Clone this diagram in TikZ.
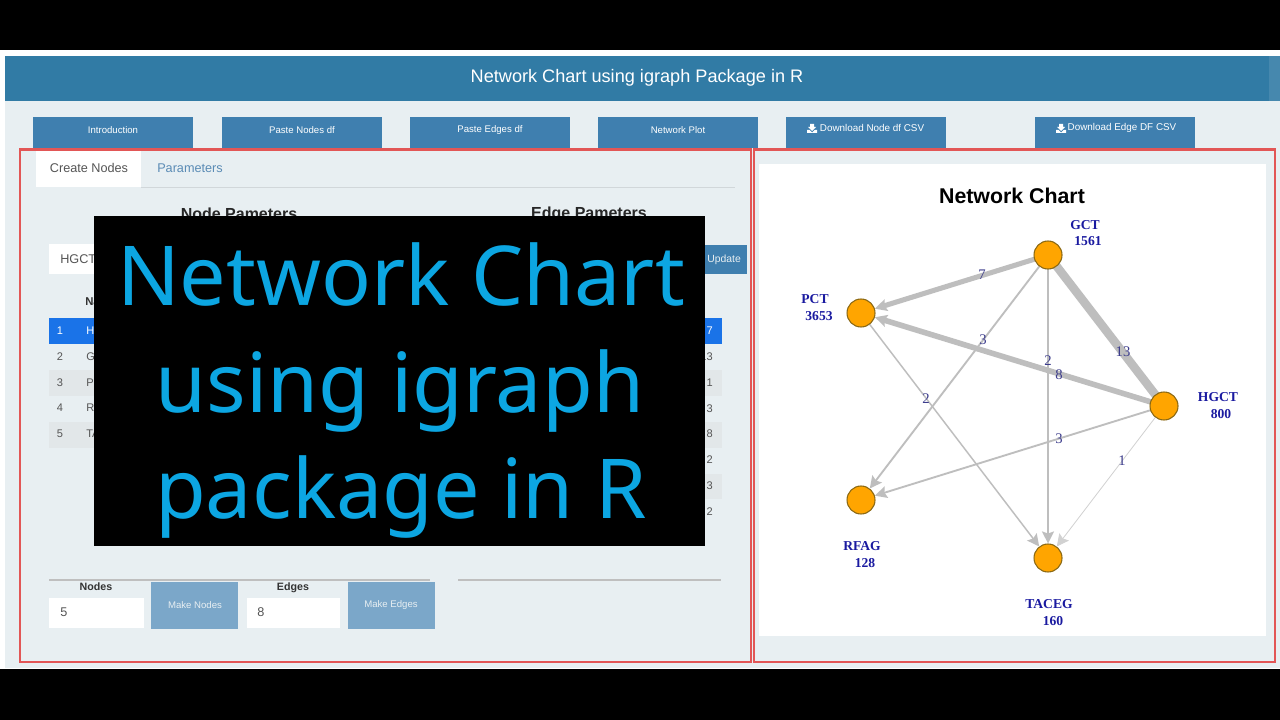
\documentclass[tikz,border=0pt]{standalone}
\usepackage{fontspec}
\setmainfont{Liberation Sans}
\newfontfamily\plotfont{Liberation Serif}
\newfontfamily\bannerfont{Noto Sans}
\usetikzlibrary{arrows.meta}
\pgfdeclarelayer{vertices}
\pgfsetlayers{main,vertices}
\definecolor{pagebg}{HTML}{E8EFF2}
\definecolor{headbg}{HTML}{317BA5}
\definecolor{btnbg}{HTML}{3F7FAF}
\definecolor{btnsoft}{HTML}{7BA7C9}
\definecolor{frameRed}{HTML}{E25656}
\definecolor{rowblue}{HTML}{1A73E8}
\definecolor{rowgray}{HTML}{E2E7E9}
\definecolor{txtgray}{HTML}{555555}
\definecolor{linkblue}{HTML}{5A8BB5}
\definecolor{edgegray}{HTML}{BEBEBE}
\definecolor{vertexfill}{HTML}{FFA500}
\definecolor{vertexline}{HTML}{8B6914}
\definecolor{labelblue}{HTML}{1A1AA0}
\definecolor{weightblue}{HTML}{3C3C8C}
\definecolor{bannerblue}{HTML}{0CA6E2}
\tikzset{
    txt/.style={inner sep=0pt, text=txtgray, font=\fontsize{9.5}{10}\selectfont},
    celltxt/.style={inner sep=0pt, text=txtgray, font=\fontsize{8.3}{9}\selectfont},
    topbtn/.style={text=white, inner sep=0pt, font=\fontsize{7.2}{8}\selectfont},
    softbtn/.style={text=pagebg, inner sep=0pt, font=\fontsize{7.2}{8}\selectfont},
    boldtxt/.style={inner sep=0pt, anchor=base, text=black!80, font=\fontsize{8}{8}\selectfont\bfseries},
    headtxt/.style={inner sep=0pt, text=black!85, font=\fontsize{12}{12}\selectfont\bfseries},
    vertex/.style={circle, minimum size=21pt, inner sep=0pt, fill=vertexfill, draw=vertexline, line width=0.8pt},
    vlabel/.style={inner sep=0pt, text=labelblue, font=\plotfont\fontsize{10.2}{11}\selectfont\bfseries},
    weight/.style={inner sep=0pt, text=weightblue, font=\plotfont\fontsize{11}{11}\selectfont},
    banner/.style={anchor=base, inner sep=0pt, text=bannerblue, font=\bannerfont\fontsize{62}{62}\selectfont},
    edge/.style={draw=edgegray, shorten <=-6pt, -{Stealth[length=9pt,width=9pt,inset=1.5pt]}}
}
\begin{document}
\begin{tikzpicture}[x=0.75pt,y=-0.75pt]
    \useasboundingbox (0,0) rectangle (1280,720);
    \fill[black] (0,0) rectangle (1280,720);
    \fill[white] (0,50) rectangle (1280,669);
    \fill[pagebg] (5,56) rectangle (1280,668);
    \fill[headbg] (5,56) rectangle (1280,101);
    \fill[headbg!90!white] (1269,56) rectangle (1280,101);
    \node[inner sep=0pt, text=white, font=\fontsize{13.6}{14}\selectfont] (title) at (637,78) {Network Chart using igraph Package in R};

    % top buttons
    \fill[btnbg] (33,117) rectangle (193,148);
    \fill[btnbg] (222,117) rectangle (382,148);
    \fill[btnbg] (410,117) rectangle (570,148);
    \fill[btnbg] (598,117) rectangle (758,148);
    \fill[btnbg] (786,117) rectangle (946,148);
    \fill[btnbg] (1035,117) rectangle (1195,148);
    \node[topbtn] (btnIntro) at (113,130) {Introduction};
    \node[topbtn] (btnNodes) at (302,130) {Paste Nodes df};
    \node[topbtn] (btnEdges) at (490,130) {Paste Edges df};
    \node[topbtn] (btnPlot) at (678,130) {Network Plot};
    \node[topbtn, font=\fontsize{7.4}{8}\selectfont] (btnNodeCsv) at (872,128) {Download Node df CSV};
    \node[topbtn, font=\fontsize{7.4}{8}\selectfont] (btnEdgeCsv) at (1122,128) {Download Edge DF CSV};
    \fill[white] (810,124) -- (814,124) -- (814,127) -- (816,127) -- (812,131) -- (808,127) -- (810,127) -- cycle;
    \fill[white] (807,130) -- (809.5,130) -- (812,132.5) -- (814.5,130) -- (817,130) -- (817,133) -- (807,133) -- cycle;
    \fill[white] (1059,124) -- (1063,124) -- (1063,127) -- (1065,127) -- (1061,131) -- (1057,127) -- (1059,127) -- cycle;
    \fill[white] (1056,130) -- (1058.5,130) -- (1061,132.5) -- (1063.5,130) -- (1066,130) -- (1066,133) -- (1056,133) -- cycle;

    % left panel
    \fill[white] (36,151) rectangle (141,187);
    \draw[pagebg!90!black, line width=0.6pt] (141,187) -- (735,187);
    \node[txt] (tabCreate) at (89,168) {Create Nodes};
    \node[txt, text=linkblue] (tabParam) at (190,168) {Parameters};
    \node[headtxt] (headNode) at (239,214) {Node Pameters};
    \node[headtxt] (headEdge) at (589,214) {Edge Pameters};
    \fill[white] (49,244) rectangle (200,274);
    \node[txt, anchor=west] (inputNode) at (60,259) {HGCT};
    \fill[btnbg] (660,245) rectangle (747,274);
    \node[topbtn, anchor=west, text=pagebg, font=\fontsize{7.8}{8}\selectfont] (btnUpdate) at (707,260) {Update};

    \fill[rowblue] (49,318) rectangle (722,344);
    \fill[rowgray] (49,370) rectangle (722,396);
    \fill[rowgray] (49,422) rectangle (722,448);
    \fill[rowgray] (600,474) rectangle (722,499);
    \node[boldtxt, anchor=west, font=\fontsize{8.5}{9}\selectfont\bfseries] (colName) at (85,302) {Na};
    \node[celltxt, text=white] (rowNumA) at (60,331) {1};
    \node[celltxt] (rowNumB) at (60,357) {2};
    \node[celltxt] (rowNumC) at (60,383) {3};
    \node[celltxt] (rowNumD) at (60,408) {4};
    \node[celltxt] (rowNumE) at (60,434) {5};
    \node[celltxt, text=white, anchor=west] (rowNameA) at (86,331) {HG};
    \node[celltxt, anchor=west] (rowNameB) at (86,357) {GC};
    \node[celltxt, anchor=west] (rowNameC) at (86,383) {PC};
    \node[celltxt, anchor=west] (rowNameD) at (86,408) {RF};
    \node[celltxt, anchor=west] (rowNameE) at (86,434) {TA};
    \node[celltxt, text=white, anchor=east] (valA) at (713,331) {7};
    \node[celltxt, anchor=east] (valB) at (713,357) {13};
    \node[celltxt, anchor=east] (valC) at (713,383) {1};
    \node[celltxt, anchor=east] (valD) at (713,409) {3};
    \node[celltxt, anchor=east] (valE) at (713,434) {8};
    \node[celltxt, anchor=east] (valF) at (713,460) {2};
    \node[celltxt, anchor=east] (valG) at (713,486) {3};
    \node[celltxt, anchor=east] (valH) at (713,512) {2};

    % bottom form
    \draw[black!25, line width=0.9pt] (49,580) -- (430,580);
    \draw[black!25, line width=0.9pt] (458,580) -- (721,580);
    \node[boldtxt] (lblNodes) at (96,590) {Nodes};
    \node[boldtxt] (lblEdges) at (293,590) {Edges};
    \fill[white] (49,598) rectangle (144,628);
    \fill[white] (247,598) rectangle (340,628);
    \node[txt, anchor=west] (inNodes) at (60,612) {5};
    \node[txt, anchor=west] (inEdges) at (257,612) {8};
    \fill[btnsoft] (151,582) rectangle (238,629);
    \fill[btnsoft] (348,582) rectangle (435,629);
    \node[softbtn] (btnMakeNodes) at (195,605) {Make Nodes};
    \node[softbtn] (btnMakeEdges) at (391,605) {Make Edges};

    % chart panel
    \fill[white] (759,164) rectangle (1266,636);
    \node[inner sep=0pt, text=black, font=\fontsize{16}{16}\selectfont\bfseries] (chartTitle) at (1012,196) {Network Chart};

    \begin{pgfonlayer}{vertices}
        \node[vertex] (hgct) at (1164,406) {};
        \node[vertex] (gct) at (1048,255) {};
        \node[vertex] (pct) at (861,313) {};
        \node[vertex] (rfag) at (861,500) {};
        \node[vertex] (taceg) at (1048,558) {};
    \end{pgfonlayer}

    \draw[edge, line width=3.8pt] (gct) -- (pct);
    \draw[edge, line width=4.2pt] (hgct) -- (pct);
    \draw[draw=edgegray, line width=6.4pt, shorten <=-6pt, shorten >=-6pt] (hgct) -- (gct);
    \draw[edge, line width=1.4pt] (gct) -- (rfag);
    \draw[edge, line width=1.1pt] (gct) -- (taceg);
    \draw[edge, line width=1.1pt] (pct) -- (taceg);
    \draw[edge, line width=1.4pt] (hgct) -- (rfag);
    \draw[edge, line width=0.6pt, draw=edgegray!70] (hgct) -- (taceg);

    \node[weight] (wA) at (982,275) {7};
    \node[weight] (wB) at (1059,375) {8};
    \node[weight] (wC) at (1123,352) {13};
    \node[weight] (wD) at (983,340) {3};
    \node[weight] (wE) at (1048,361) {2};
    \node[weight] (wF) at (926,399) {2};
    \node[weight] (wG) at (1059,439) {3};
    \node[weight] (wH) at (1122,461) {1};

    \node[vlabel] (nameGct) at (1085,225) {GCT};
    \node[vlabel] (sizeGct) at (1088,241) {1561};
    \node[vlabel] (namePct) at (815,299) {PCT};
    \node[vlabel] (sizePct) at (819,316) {3653};
    \node[vlabel] (nameHgct) at (1218,397) {HGCT};
    \node[vlabel] (sizeHgct) at (1221,414) {800};
    \node[vlabel] (nameRfag) at (862,546) {RFAG};
    \node[vlabel] (sizeRfag) at (865,563) {128};
    \node[vlabel] (nameTaceg) at (1049,604) {TACEG};
    \node[vlabel] (sizeTaceg) at (1053,621) {160};

    % frames
    \draw[frameRed, line width=2pt] (20,149.5) rectangle (751,662);
    \draw[frameRed, line width=2pt] (754,149.5) rectangle (1275,662);

    % title card
    \fill[black] (94,216) rectangle (705,546);
    \node[banner] (cardA) at (401,305) {Network Chart};
    \node[banner] (cardB) at (400,412) {using igraph};
    \node[banner] (cardC) at (401,518) {package in R};
\end{tikzpicture}
\end{document}
